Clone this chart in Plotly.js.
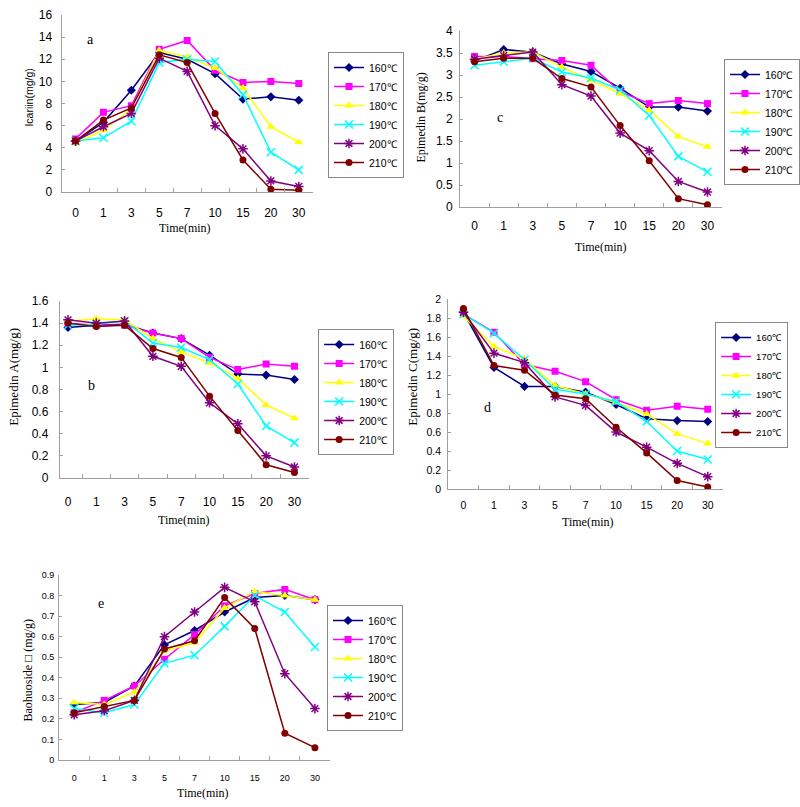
<!DOCTYPE html>
<html>
<head>
<meta charset="utf-8">
<script src="https://cdn.plot.ly/plotly-3.0.1.min.js"></script>
<style>html,body{margin:0;padding:0;background:#fff;}#chart{width:800px;height:807px;}</style>
</head>
<body>
<div id="chart"></div>
<script>
// ---- data ----
const times = ["0","1","3","5","7","10","15","20","30"];
const temps = ["160℃","170℃","180℃","190℃","200℃","210℃"];

// a: Icariin (mg/g)
const icariin160 = [4.6, 6.3, 9.2, 12.6, 12.0, 10.7, 8.4, 8.6, 8.3];
const icariin170 = [4.8, 7.2, 7.8, 12.9, 13.7, 11.0, 9.9, 10.0, 9.8];
const icariin180 = [4.4, 5.6, 7.5, 12.8, 12.2, 11.2, 9.4, 5.9, 4.5];
const icariin190 = [4.6, 4.9, 6.4, 11.7, 12.0, 11.8, 8.8, 3.6, 2.0];
const icariin200 = [4.6, 5.9, 7.1, 12.1, 10.9, 6.0, 3.9, 1.0, 0.5];
const icariin210 = [4.6, 6.5, 7.6, 12.4, 11.7, 7.1, 2.9, 0.25, 0.15];

// c: Epimedin B (mg/g)
const epiB160 = [3.32, 3.58, 3.52, 3.25, 3.08, 2.70, 2.27, 2.27, 2.18];
const epiB170 = [3.42, 3.42, 3.37, 3.33, 3.22, 2.62, 2.35, 2.42, 2.35];
const epiB180 = [3.36, 3.50, 3.52, 3.18, 2.88, 2.58, 2.20, 1.60, 1.37];
const epiB190 = [3.22, 3.30, 3.38, 3.07, 2.93, 2.66, 2.08, 1.15, 0.80];
const epiB200 = [3.36, 3.44, 3.52, 2.78, 2.52, 1.68, 1.28, 0.58, 0.34];
const epiB210 = [3.30, 3.38, 3.38, 2.92, 2.73, 1.85, 1.05, 0.19, 0.05];

// b: Epimedin A (mg/g)
const epiA160 = [1.36, 1.38, 1.39, 1.31, 1.26, 1.11, 0.94, 0.93, 0.89];
const epiA170 = [1.40, 1.38, 1.38, 1.31, 1.26, 1.09, 0.98, 1.03, 1.01];
const epiA180 = [1.42, 1.44, 1.43, 1.26, 1.14, 1.04, 0.90, 0.66, 0.54];
const epiA190 = [1.38, 1.39, 1.42, 1.22, 1.18, 1.07, 0.85, 0.47, 0.32];
const epiA200 = [1.43, 1.40, 1.42, 1.10, 1.01, 0.68, 0.49, 0.20, 0.10];
const epiA210 = [1.40, 1.37, 1.38, 1.17, 1.09, 0.74, 0.43, 0.12, 0.05];

// d: Epimedin C (mg/g)
const epiC160 = [1.86, 1.28, 1.08, 1.08, 1.02, 0.89, 0.74, 0.72, 0.71];
const epiC170 = [1.84, 1.65, 1.31, 1.24, 1.13, 0.94, 0.83, 0.87, 0.84];
const epiC180 = [1.82, 1.50, 1.37, 1.09, 1.00, 0.91, 0.79, 0.58, 0.48];
const epiC190 = [1.84, 1.64, 1.36, 1.05, 1.00, 0.92, 0.71, 0.40, 0.31];
const epiC200 = [1.86, 1.43, 1.33, 0.97, 0.88, 0.60, 0.44, 0.27, 0.13];
const epiC210 = [1.90, 1.30, 1.25, 0.99, 0.95, 0.65, 0.38, 0.09, 0.02];

// e: Baohuoside (mg/g)
const bao160 = [0.27, 0.28, 0.36, 0.56, 0.63, 0.72, 0.79, 0.80, 0.78];
const bao170 = [0.23, 0.29, 0.36, 0.49, 0.61, 0.75, 0.81, 0.83, 0.78];
const bao180 = [0.28, 0.27, 0.33, 0.53, 0.57, 0.74, 0.82, 0.80, 0.78];
const bao190 = [0.25, 0.23, 0.27, 0.47, 0.51, 0.65, 0.80, 0.72, 0.55];
const bao200 = [0.22, 0.24, 0.29, 0.60, 0.72, 0.84, 0.77, 0.42, 0.25];
const bao210 = [0.23, 0.26, 0.29, 0.54, 0.58, 0.79, 0.64, 0.13, 0.06];

const panels = [
  {ax: "",  legend: "legend",  series: [icariin160, icariin170, icariin180, icariin190, icariin200, icariin210]},
  {ax: "2", legend: "legend2", series: [epiB160, epiB170, epiB180, epiB190, epiB200, epiB210]},
  {ax: "3", legend: "legend3", series: [epiA160, epiA170, epiA180, epiA190, epiA200, epiA210]},
  {ax: "4", legend: "legend4", series: [epiC160, epiC170, epiC180, epiC190, epiC200, epiC210]},
  {ax: "5", legend: "legend5", series: [bao160, bao170, bao180, bao190, bao200, bao210]}
];

// ---- styles ----
const colors = ["#000080", "#FF00FF", "#FFFF00", "#00FFFF", "#800080", "#800000"];
const symbols = ["diamond", "square", "triangle-up", "x-thin-open", "asterisk-open", "circle"];
const msizes = [7, 7, 8, 8, 8, 7];

const W = 800, H = 807;
const px = v => v / W;
const py = v => 1 - v / H;

const traces = [];
panels.forEach(p => {
  p.series.forEach((vals, i) => {
    traces.push({
      type: "scatter", mode: "lines+markers",
      x: times, y: vals, name: temps[i],
      xaxis: "x" + p.ax, yaxis: "y" + p.ax, legend: p.legend,
      line: {color: colors[i], width: 1.5},
      marker: {symbol: symbols[i], size: msizes[i], color: colors[i],
               line: {color: colors[i], width: (i === 3 || i === 4) ? 1.5 : 0}}
    });
  });
});

const sans = "Liberation Sans, Arial, sans-serif";
const serif = "Liberation Serif, Times New Roman, serif";

function xax(d, range, fs, standoff, ya) {
  return {type: "category", categoryorder: "array", categoryarray: times, anchor: ya,
    domain: [px(d[0]), px(d[1])], range: range, showline: true, linecolor: "#a0a0a0", linewidth: 1,
    ticks: "inside", tickson: "boundaries", ticklen: 4, tickcolor: "#a0a0a0",
    showgrid: false, zeroline: false, fixedrange: true,
    tickfont: {family: sans, size: fs, color: "#000"}, ticklabelstandoff: standoff};
}
function yax(d, range, dtick, fs, standoff, xa) {
  return {domain: [py(d[1]), py(d[0])], range: range, dtick: dtick, anchor: xa,
    showline: true, linecolor: "#a0a0a0", linewidth: 1,
    ticks: "inside", ticklen: 3, tickcolor: "#a0a0a0",
    showgrid: false, zeroline: false, fixedrange: true,
    tickfont: {family: sans, size: fs, color: "#000"}, ticklabelstandoff: standoff};
}
function leg(x, y, fs) {
  return {x: px(x), y: py(y), xanchor: "left", yanchor: "top",
    bgcolor: "#fff", bordercolor: "#888", borderwidth: 1,
    font: {family: sans, size: fs, color: "#000"}, itemwidth: 30, tracegroupgap: 0};
}
function ann(text, x, y, font, size, angle) {
  return {text: text, x: px(x), y: py(y), xref: "paper", yref: "paper",
    xanchor: "center", yanchor: "middle", showarrow: false, textangle: angle || 0,
    font: {family: font, size: size, color: "#000"}};
}

const layout = {
  width: W, height: H, margin: {l: 0, r: 0, t: 0, b: 0},
  paper_bgcolor: "#fff", plot_bgcolor: "#fff", showlegend: true,
  xaxis:  xax([62.5, 317.5], [-0.5, 8.5], 12, 10, "y"),
  yaxis:  yax([15, 192], [0, 16], 2, 12, 6, "x"),
  xaxis2: xax([467, 733], [-0.5, 8.5], 12, 8, "y2"),
  yaxis2: yax([31, 207], [0, 4], 0.5, 12, 4, "x2"),
  xaxis3: xax([60.7, 313.3], [-0.29, 8.5], 12, 13, "y3"),
  yaxis3: yax([301, 478], [0, 1.6], 0.2, 12, 8, "x3"),
  xaxis4: xax([455, 734], [-0.5, 8.5], 10.5, 6, "y4"),
  yaxis4: yax([299, 489], [0, 2], 0.2, 10.5, 4, "x4"),
  xaxis5: xax([60, 335], [-0.5, 8.5], 9, 9, "y5"),
  yaxis5: yax([575, 760], [0, 0.9], 0.1, 9, 2, "x5"),
  legend:  leg(333, 52, 10.5),
  legend2: leg(735, 59, 10.5),
  legend3: leg(323, 329, 10.5),
  legend4: leg(726, 322, 9.5),
  legend5: leg(332, 605, 10.5),
  annotations: [
    ann("Icariin(mg/g)", 29, 98, sans, 10.5, -90),
    ann("Epimedin B(mg/g)", 427, 118, serif, 12, -90),
    ann("Epimedin A(mg/g)", 13, 377, serif, 13, -90),
    ann("Epimedin C(mg/g)", 418, 377, serif, 13, -90),
    ann("Baohuoside □ (mg/g)", 28, 670, serif, 12, -90),
    ann("Time(min)", 188, 228, serif, 12),
    ann("Time(min)", 610, 247, serif, 12),
    ann("Time(min)", 187, 520, serif, 12),
    ann("Time(min)", 597, 522, serif, 12),
    ann("Time(min)", 206, 793, serif, 12),
    ann("a", 92, 40, serif, 14),
    ann("c", 508, 117, serif, 14),
    ann("b", 93, 385, serif, 14),
    ann("d", 495, 408, serif, 14),
    ann("e", 103, 603, serif, 14)
  ]
};

Plotly.newPlot("chart", traces, layout, {displayModeBar: false, staticPlot: true});
</script>
</body>
</html>
